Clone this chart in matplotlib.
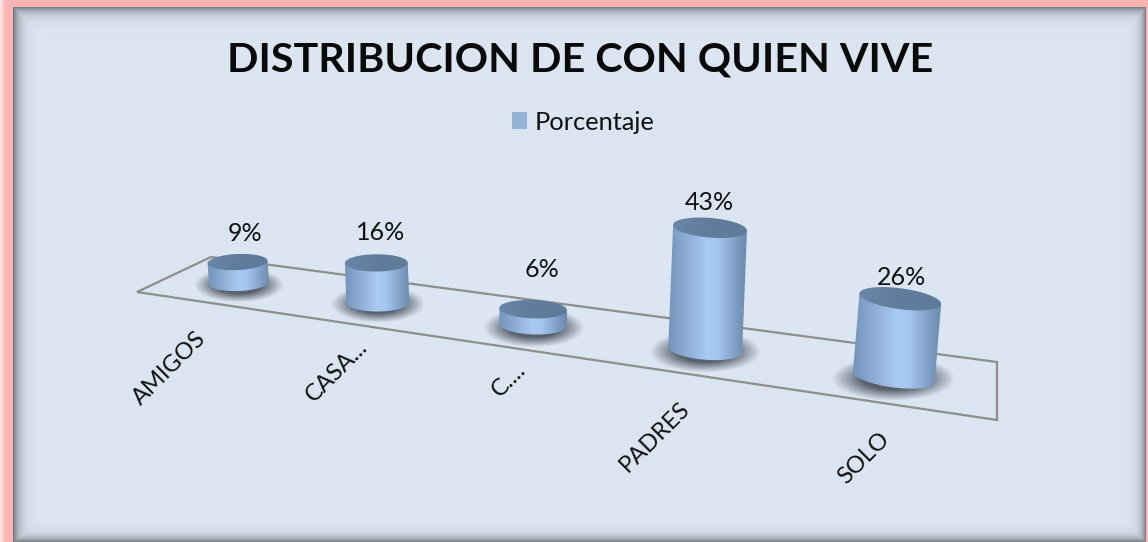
import numpy as np
import matplotlib
matplotlib.use("Agg")
import matplotlib.pyplot as plt
from matplotlib.colors import LinearSegmentedColormap, to_rgb
from matplotlib.patches import Patch, Polygon

# ---- data ----
categories = ["AMIGOS", "CASA...", "C....", "PADRES", "SOLO"]
values = [9, 16, 6, 43, 26]
value_labels = ["9%", "16%", "6%", "43%", "26%"]
title = "DISTRIBUCION DE CON QUIEN VIVE"
series_name = "Porcentaje"

# ---- layout / style ----
W, H = 1148, 542
BG = np.array(to_rgb("#dce6f2"))
FONT = "Lato"
label_offsets = [(-70, 85), (-41, 68), (-24, 55), (-50, 87), (-30, 81)]
value_offsets = [(7, -29), (4, -30), (9, -40), (-1, -25), (1, -21)]


def base_x(i):
    return 239 + 130.5 * i + 8.3 * i ** 2


def base_y(i):
    return 283 + 18.7 * i + 1.2 * i ** 2


def radius_x(i):
    return 30 + 1.0 * i + 0.45 * i ** 2


def radius_y(i):
    return 8 + 0.6 * i


def height_scale(i):
    return 2.33 + 0.17 * i


def ellipse(cx, cy, a, b, theta, t):
    return np.column_stack([
        cx + a * np.cos(t) * np.cos(theta) - b * np.sin(t) * np.sin(theta),
        cy + a * np.cos(t) * np.sin(theta) + b * np.sin(t) * np.cos(theta),
    ])


def background():
    yy, xx = np.mgrid[0:H, 0:W]
    img = np.ones((H, W, 3)) * np.array(to_rgb("#fab4b4"))
    ramp = np.clip(xx / 5.0, 0, 1)[..., None]
    img = np.array(to_rgb("#ffe6e6")) * (1 - ramp) + img * ramp
    x0, x1, y0 = 13, 1146, 7
    inside = (xx >= x0) & (xx < x1) & (yy >= y0)
    dl, dr, dt, db = xx - x0, x1 - 1 - xx, yy - y0, H - 1 - yy
    alpha = np.maximum.reduce([
        0.82 * np.exp(-dl / 6.0), 0.74 * np.exp(-dr / 5.0),
        0.74 * np.exp(-dt / 6.0), 0.74 * np.exp(-db / 5.0)])[..., None]
    panel = BG * (1 - alpha) + np.array(to_rgb("#5a6068")) * alpha
    img[inside] = panel[inside]
    return img


fig = plt.figure(figsize=(W / 100, H / 100), dpi=100)
ax = fig.add_axes([0, 0, 1, 1])
ax.imshow(background(), extent=(0, W, H, 0), aspect="auto", zorder=0, interpolation="nearest")

# floor outline
floor = Polygon([(211, 257), (137, 292), (997, 420), (997, 362)], closed=True,
                fill=False, edgecolor="#8f8f8a", linewidth=1.6, zorder=1)
ax.add_patch(floor)

body_cmap = LinearSegmentedColormap.from_list(
    "body", [(0, "#7391b6"), (0.10, "#7d9cc3"), (0.5, "#a9caf2"), (0.62, "#a5c6ee"),
             (0.90, "#7694ba"), (1, "#6a86a8")])
top_cmap = LinearSegmentedColormap.from_list("top", ["#6b87a8", "#5f7c9c", "#607c9a"])

tt = np.linspace(0, np.pi, 80)
full = np.linspace(0, 2 * np.pi, 160)

for i, (cat, val, vlab) in enumerate(zip(categories, values, value_labels)):
    bx, by = base_x(i), base_y(i)
    rx, ry = radius_x(i), radius_y(i)
    h = val * height_scale(i)
    lean = (bx - 533) * h * 2.3e-4
    theta = np.deg2rad((bx - 400) * 0.0155)
    tx, ty = bx + lean, by - h

    # soft shadow on the floor
    sx0, sx1 = bx - rx * 2, bx + rx * 2
    sy0, sy1 = by + 2 - ry * 3.2, by + 2 + ry * 3.2
    gy, gx = np.mgrid[sy0:sy1:120j, sx0:sx1:240j]
    r = np.sqrt(((gx - bx) / (rx * 1.5)) ** 2 + ((gy - by - 2) / (ry * 2.15)) ** 2)
    shadow = np.zeros(r.shape + (4,))
    shadow[..., :3] = to_rgb("#3c444e")
    shadow[..., 3] = 0.82 * np.clip((1 - r) / 0.5, 0, 1)
    ax.imshow(shadow, extent=(sx0, sx1, sy1, sy0), aspect="auto", zorder=2)

    # cylinder body
    outline = np.vstack([ellipse(bx, by, rx, ry, theta, tt),
                         ellipse(tx, ty, rx, ry, theta, np.array([np.pi, 0.0]))])
    clip = Polygon(outline, closed=True, transform=ax.transData, facecolor="none", edgecolor="none")
    ax.add_patch(clip)
    grad = np.linspace(0, 1, 256)[None, :]
    left, right = min(bx, tx) - rx - 2, max(bx, tx) + rx + 2
    im = ax.imshow(grad, cmap=body_cmap, extent=(left, right, by + ry + 3, ty - ry - 3),
                   aspect="auto", zorder=3)
    im.set_clip_path(clip)

    # cylinder top
    top_clip = Polygon(ellipse(tx, ty, rx, ry, theta, full), closed=True,
                       transform=ax.transData, facecolor="none", edgecolor="none")
    ax.add_patch(top_clip)
    tim = ax.imshow(grad, cmap=top_cmap, extent=(tx - rx - 2, tx + rx + 2, ty + ry + 3, ty - ry - 3),
                    aspect="auto", zorder=4)
    tim.set_clip_path(top_clip)

    # labels
    dx, dy = value_offsets[i]
    ax.text(tx + dx, ty + dy, vlab, ha="center", va="center", fontsize=18,
            family=FONT, color="#111111", zorder=6)
    dx, dy = label_offsets[i]
    ax.text(bx + dx, by + dy, cat, ha="center", va="center", rotation=45,
            rotation_mode="anchor", fontsize=17, family=FONT, color="#111111", zorder=6)

ax.text(580, 60, title, ha="center", va="center", fontsize=29.7, fontweight="bold",
        family=FONT, color="#0a0a0a", zorder=6)

ax.legend(handles=[Patch(facecolor="#95b3d7", edgecolor="none", label=series_name)],
          loc="center", bbox_to_anchor=(583 / W, 1 - 122 / H), frameon=False,
          handlelength=0.6, handleheight=0.6, handletextpad=0.3, borderpad=0,
          prop={"family": FONT, "size": 18.3}, labelcolor="#111111")

ax.set_xlim(0, W)
ax.set_ylim(H, 0)
ax.axis("off")
fig.savefig("out.png", dpi=100)
